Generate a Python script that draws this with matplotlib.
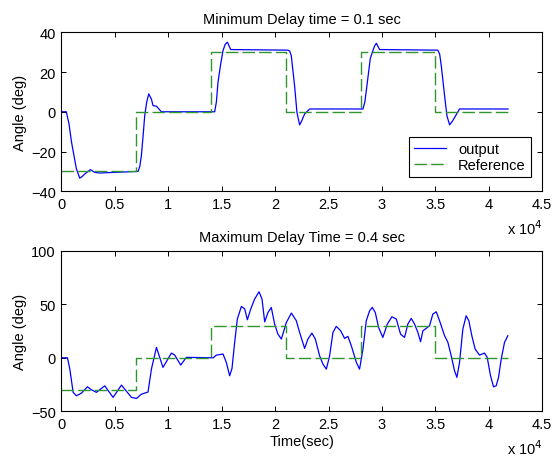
import matplotlib
matplotlib.use('Agg')
import matplotlib.pyplot as plt
from matplotlib.ticker import FuncFormatter

plt.rcParams['font.family'] = ['Liberation Sans', 'DejaVu Sans']
plt.rcParams['font.size'] = 10.5

# reference step signal (same for both plots)
ref_t = [0, 7000, 7000, 14000, 14000, 21000, 21000, 28000, 28000, 35000, 35000, 41800]
ref_y = [-30, -30, 0, 0, 30, 30, 0, 0, 30, 30, 0, 0]

# output, minimum delay 0.1 sec
out1_t = [0, 450, 700, 940, 1200, 1400, 1710, 1950, 2180, 2710, 3120, 3560, 7170,
          7330, 7480, 7640, 7790, 7980, 8170, 8420, 8570, 8890, 9350, 14340, 14500,
          14650, 14900, 15120, 15330, 15530, 15840, 21200, 21360, 21510, 21820, 22040,
          22290, 22450, 22760, 23230, 28220, 28400, 28590, 28900, 29150, 29300, 29470,
          29780, 35230, 35400, 35550, 35860, 36080, 36330, 36630, 37260, 41800]
out1_y = [0, 0, -6, -15.3, -23, -28.8, -33.4, -32.5, -31.3, -29.1, -30.5, -30.8, -30,
          -27.5, -22, -12, -2, 5, 9, 6.3, 3.1, 2.8, 0, 0, 5,
          14.8, 24, 30.8, 34, 35, 31.3, 31, 30.5, 28.2, 13.1, -0.3,
          -6.6, -5, -1.1, 1.4, 1.4, 5, 13.1, 26.6, 30.8, 33, 34.5,
          31.3, 31, 29, 23.2, 8.1, -2, -6.6, -4.4, 1.4, 1.4]

# output, maximum delay 0.4 sec
out2_t = [0, 560, 780, 1090, 1400, 1870, 2430, 2810, 3270, 4050, 4830, 5610, 6550,
          7020, 7480, 8100, 8420, 8890, 9500, 10290, 10600, 11160, 11690, 14200,
          14500, 15120, 15430, 15740, 15960, 16210, 16460, 16840, 17150, 17400, 17710,
          18080, 18490, 18770, 19020, 19330, 19640, 19950, 20260, 20580, 21050, 21520,
          21980, 22290, 22760, 23070, 23440, 23760, 24160, 24470, 24790, 25100, 25410,
          25720, 26130, 26500, 26810, 27130, 27600, 27900, 28220, 28530, 28840, 29090,
          29370, 29680, 30080, 30500, 30930, 31340, 31740, 32110, 32420, 32740, 33050,
          33360, 33610, 33830, 34140, 34450, 34760, 35080, 35390, 35860, 36170, 36480,
          36790, 37010, 37260, 37570, 37880, 38130, 38410, 38720, 39130, 39600, 39850,
          40160, 40440, 40690, 40910, 41160, 41470, 41780]
out2_y = [0, 0, -10.5, -32.3, -35.5, -33, -27.1, -29.9, -32.3, -26.2, -37, -25.5, -37,
          -38, -34, -32, -10.5, 9.7, -9, 4.4, 2.5, -6.8, 0.4, 0,
          2.5, 3.5, -4.3, -16.8, -10, 14.4, 36.2, 48, 45.7, 35.5, 45.5,
          54.9, 61.7, 54.9, 33.6, 42.4, 47, 31.5, 22.1, 17.5, 33, 41.8,
          34.6, 23.7, 8.8, 17.5, 23.1, 17.5, 1.9, -5.9, -10.6, 1.9, 23.7,
          29.3, 25.3, 18.1, 20, 11.2, -4.3, -10.6, 8.1, 34.6, 43.9, 47.1,
          42.4, 28.4, 19, 31.5, 38.3, 36.2, 22.1, 19, 31.5, 36.8, 31.5,
          23.7, 15, 25.2, 27.5, 29.9, 40.8, 43, 34.6, 20.6, 14.4, 1.9,
          -12.1, -18.3, -4.3, 26.8, 39.3, 34.6, 20.6, 8.1, 2.5, 4.4, 0.4,
          -16.8, -27.1, -26.2, -18.3, -1.2, 14.4, 20.6]

xticks = [0, 5000, 10000, 15000, 20000, 25000, 30000, 35000, 40000, 45000]

fig = plt.figure(figsize=(5.59, 4.60), dpi=100)
ax1 = fig.add_axes([0.110, 0.582, 0.860, 0.3457])
ax2 = fig.add_axes([0.110, 0.1037, 0.860, 0.349])

blue = '#0000ff'
green = '#2f962f'

for ax, out_t, out_y in [(ax1, out1_t, out1_y), (ax2, out2_t, out2_y)]:
    ax.plot(out_t, out_y, color=blue, lw=0.9, label='output')
    ax.plot(ref_t, ref_y, color=green, lw=1.0, ls=(0, (9, 3)), label='Reference')
    ax.set_xlim(0, 45000)
    ax.set_xticks(xticks)
    ax.xaxis.set_major_formatter(FuncFormatter(lambda v, p: '%g' % (v / 1e4)))
    ax.tick_params(direction='in', top=True, right=True, length=3.5, width=0.7, pad=4)
    for s in ax.spines.values():
        s.set_linewidth(0.8)
    ax.set_ylabel('Angle (deg)', labelpad=3)
    ax.text(1.0, -0.17, r'x 10$^4$', transform=ax.transAxes, ha='right', va='top')

ax1.set_ylim(-40, 40)
ax1.set_yticks([-40, -20, 0, 20, 40])
ax1.set_title('Minimum Delay time = 0.1 sec', fontsize=10.5, pad=7)
leg = ax1.legend(loc='lower right', bbox_to_anchor=(0.976, 0.09), fancybox=False,
                 edgecolor='black', framealpha=1, borderpad=0.35, handlelength=2.2,
                 handletextpad=0.8, labelspacing=0.1, borderaxespad=0)
leg.get_frame().set_linewidth(0.8)

ax2.set_ylim(-50, 100)
ax2.set_yticks([-50, 0, 50, 100])
ax2.set_title('Maximum Delay Time = 0.4 sec', fontsize=10.5, pad=7)
ax2.set_xlabel('Time(sec)', labelpad=2)

fig.savefig('out.png', dpi=100, facecolor='white')
